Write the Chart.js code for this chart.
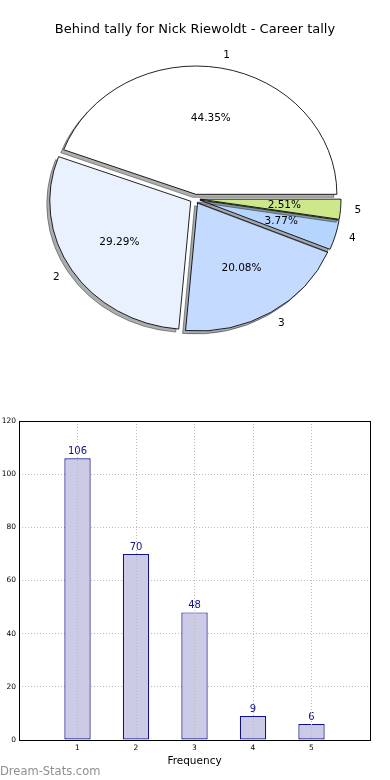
<!DOCTYPE html>
<html lang="en">
<head>
  <meta charset="UTF-8" />
  <title>Behind tally for Nick Riewoldt - Career tally</title>
  <script src="https://cdn.jsdelivr.net/npm/chart.js"></script>
  <style>
    body {
      margin: 0;
      background: #fff;
      font-family: 'DejaVu Sans', sans-serif;
    }
    .page {
      position: relative;
      width: 390px;
      height: 780px;
    }
    canvas {
      display: block;
    }
    .watermark {
      position: absolute;
      left: 0;
      top: 764px;
      font-size: 11.5px;
      line-height: 14px;
      color: #8f8f8f;
    }
  </style>
</head>
<body>
  <div class="page">
    <canvas id="pieChart" width="390" height="400"></canvas>
    <canvas id="barChart" width="390" height="380"></canvas>
    <div class="watermark">Dream-Stats.com</div>
  </div>

  <script>
    // data
    const categories = [1, 2, 3, 4, 5];
    const behinds = [106, 70, 48, 9, 6];
    const sliceColors = ['#ffffff', '#e9f1ff', '#c4daff', '#b5d5ff', '#cde88a'];
    const yTicks = [0, 20, 40, 60, 80, 100, 120];

    Chart.defaults.font.family = "'DejaVu Sans', sans-serif";
    Chart.defaults.color = '#000';

    // pie look
    const SQUASH = 0.91;    // pie is a bit wider than tall
    const EXPLODE = 5;      // px each slice is pulled out
    const SHADOW_DX = -3;
    const SHADOW_DY = 3;

    // matplotlib goes counter clockwise from 3 o'clock, chart.js goes clockwise,
    // so feed the slices in reverse and start at 3 o'clock
    const pieLabels = categories.map(String).reverse();
    const pieValues = behinds.slice().reverse();
    const pieColors = sliceColors.slice().reverse();
    const total = behinds.reduce((a, b) => a + b, 0);

    function squashAndExplode(ctx, arc) {
      const mid = (arc.startAngle + arc.endAngle) / 2;
      ctx.translate(arc.x, arc.y);
      ctx.scale(1, SQUASH);
      ctx.translate(Math.cos(mid) * EXPLODE, Math.sin(mid) * EXPLODE);
      ctx.translate(-arc.x, -arc.y);
    }

    const piePainter = {
      id: 'piePainter',
      beforeDatasetsDraw(chart) {
        const ctx = chart.ctx;
        const arcs = chart.getDatasetMeta(0).data.slice().reverse();
        arcs.forEach(arc => {
          // shadow first, then the wedge (same order as matplotlib)
          ctx.save();
          ctx.translate(SHADOW_DX, SHADOW_DY);
          squashAndExplode(ctx, arc);
          ctx.filter = 'brightness(0.3) opacity(0.45)';
          arc.draw(ctx);
          ctx.restore();

          ctx.save();
          squashAndExplode(ctx, arc);
          arc.draw(ctx);
          ctx.restore();
        });
        return false;
      },
      afterDraw(chart) {
        const ctx = chart.ctx;
        const arcs = chart.getDatasetMeta(0).data;
        ctx.save();
        ctx.fillStyle = '#000';
        ctx.font = "10.5px 'DejaVu Sans'";
        ctx.textBaseline = 'middle';
        arcs.forEach((arc, i) => {
          const mid = (arc.startAngle + arc.endAngle) / 2;
          const at = f => ({
            x: arc.x + Math.cos(mid) * (f * arc.outerRadius + EXPLODE),
            y: arc.y + Math.sin(mid) * (f * arc.outerRadius + EXPLODE) * SQUASH
          });
          const lab = at(1.1);
          ctx.textAlign = Math.cos(mid) > 0 ? 'left' : 'right';
          ctx.fillText(chart.data.labels[i], lab.x, lab.y);
          const pct = at(0.6);
          ctx.textAlign = 'center';
          const v = chart.data.datasets[0].data[i];
          ctx.fillText((v / total * 100).toFixed(2) + '%', pct.x, pct.y);
        });
        ctx.restore();
      }
    };

    new Chart(document.getElementById('pieChart'), {
      type: 'pie',
      data: {
        labels: pieLabels,
        datasets: [{
          data: pieValues,
          backgroundColor: pieColors,
          borderColor: '#000',
          borderWidth: 0.9
        }]
      },
      options: {
        responsive: false,
        animation: false,
        rotation: 90,
        radius: 141,
        layout: { padding: { top: 0, bottom: 40 } },
        events: [],
        plugins: {
          legend: { display: false },
          tooltip: { enabled: false },
          title: {
            display: true,
            text: 'Behind tally for Nick Riewoldt - Career tally',
            color: '#000',
            font: { size: 13, weight: 'normal' },
            padding: { top: 22, bottom: 0 }
          }
        }
      },
      plugins: [piePainter]
    });

    // bar chart: frame + value labels
    const barExtras = {
      id: 'barExtras',
      afterDatasetsDraw(chart) {
        const ctx = chart.ctx;
        const bars = chart.getDatasetMeta(0).data;
        ctx.save();
        ctx.fillStyle = '#10108a';
        ctx.font = "10px 'DejaVu Sans'";
        ctx.textAlign = 'center';
        ctx.textBaseline = 'bottom';
        bars.forEach((bar, i) => {
          ctx.fillText(String(behinds[i]), bar.x, bar.y - 2);
        });
        ctx.restore();
      },
      afterDraw(chart) {
        const { ctx, chartArea: a } = chart;
        ctx.save();
        ctx.strokeStyle = '#000';
        ctx.lineWidth = 1;
        ctx.strokeRect(Math.round(a.left) + 0.5, Math.round(a.top) + 0.5,
          Math.round(a.right - a.left), Math.round(a.bottom - a.top));
        ctx.restore();
      }
    };

    new Chart(document.getElementById('barChart'), {
      type: 'bar',
      data: {
        datasets: [{
          data: categories.map((c, i) => ({ x: c, y: behinds[i] })),
          backgroundColor: '#cbcbe6',
          borderColor: '#10108a',
          borderWidth: 1.2,
          borderSkipped: false,
          barPercentage: 0.45,
          categoryPercentage: 1
        }]
      },
      options: {
        responsive: false,
        animation: false,
        events: [],
        layout: { padding: { top: 21, right: 20, left: 0, bottom: 0 } },
        plugins: {
          legend: { display: false },
          tooltip: { enabled: false }
        },
        scales: {
          x: {
            type: 'linear',
            min: 0,
            max: 6,
            offset: false,
            afterBuildTicks: s => { s.ticks = categories.map(v => ({ value: v })); },
            afterFit: s => { s.height = 40; },
            grid: { color: '#bcbcbc', drawTicks: false, offset: false, z: 1 },
            border: { display: false, dash: [1, 2] },
            ticks: { font: { size: 7.5 }, padding: 4, maxRotation: 0 },
            title: {
              display: true,
              text: 'Frequency',
              font: { size: 10.5 },
              padding: { top: 0, bottom: 12.5 }
            }
          },
          y: {
            min: 0,
            max: 120,
            afterBuildTicks: s => { s.ticks = yTicks.map(v => ({ value: v })); },
            afterFit: s => { s.width = 19; },
            grid: { color: '#bcbcbc', drawTicks: false },
            border: { display: false, dash: [1, 2] },
            ticks: { font: { size: 7.5 }, padding: 3 }
          }
        }
      },
      plugins: [barExtras]
    });
  </script>
</body>
</html>
